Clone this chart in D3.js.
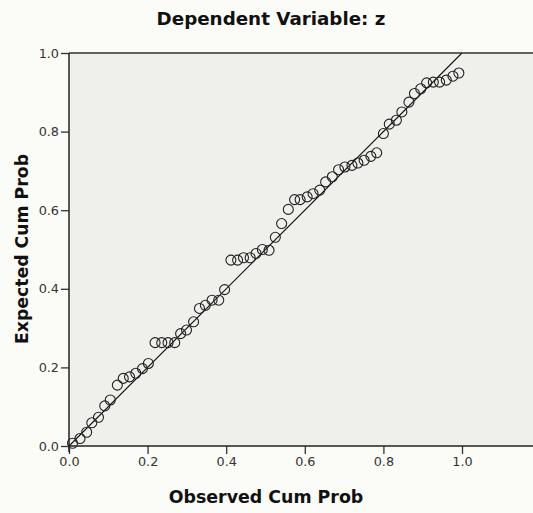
<!DOCTYPE html>
<html><head><meta charset="utf-8">
<script src="https://cdn.jsdelivr.net/npm/d3@7"></script>
<style>
body{margin:0;background:#fbfbf7;}
svg{display:block;}
</style></head>
<body>
<svg id="chart" width="533" height="513"></svg>
<script>
const titleText = "Dependent Variable: z";
const xTitle = "Observed Cum Prob";
const yTitle = "Expected Cum Prob";
const tickValues = [0, 0.2, 0.4, 0.6, 0.8, 1.0];

const observed = [0.009,0.028,0.045,0.058,0.075,0.091,0.105,0.123,0.138,0.154,0.170,0.187,0.202,0.219,0.236,0.252,0.269,0.284,0.299,0.317,0.332,0.347,0.364,0.381,0.396,0.412,0.429,0.444,0.461,0.476,0.492,0.509,0.525,0.541,0.558,0.574,0.588,0.606,0.621,0.638,0.653,0.670,0.686,0.702,0.720,0.735,0.751,0.768,0.783,0.800,0.815,0.833,0.847,0.865,0.879,0.895,0.910,0.927,0.943,0.960,0.977,0.992];
const expected = [0.007,0.019,0.035,0.059,0.073,0.102,0.117,0.155,0.172,0.176,0.185,0.197,0.210,0.263,0.263,0.263,0.263,0.286,0.295,0.316,0.350,0.358,0.371,0.371,0.398,0.473,0.473,0.479,0.479,0.490,0.500,0.498,0.531,0.566,0.602,0.627,0.627,0.634,0.642,0.651,0.672,0.685,0.703,0.710,0.714,0.720,0.727,0.737,0.746,0.795,0.819,0.829,0.850,0.875,0.897,0.909,0.924,0.926,0.926,0.931,0.941,0.949];
const refLine = [[0,0],[1,1]];

const svg = d3.select("#chart");
const W = 533, H = 513;
const mLeft = 69, mTop = 53, mBottom = 446;
const x = d3.scaleLinear().domain([0, 1]).range([mLeft, 462]);
const y = d3.scaleLinear().domain([0, 1]).range([mBottom, mTop]);

// plot background
svg.append("rect").attr("x", x(0)).attr("y", y(1)).attr("width", W - x(0)).attr("height", y(0) - y(1)).attr("fill", "#efefeb");

// reference line
svg.append("path").datum(refLine)
  .attr("d", d3.line().x(d => x(d[0])).y(d => y(d[1])))
  .attr("stroke", "#111").attr("stroke-width", 1.1).attr("fill", "none");

// points
svg.append("g").selectAll("circle").data(observed).join("circle")
  .attr("cx", (d) => x(d)).attr("cy", (d, i) => y(expected[i])).attr("r", 5)
  .attr("fill", "none").attr("stroke", "#222").attr("stroke-width", 1.1);

// top border
svg.append("line").attr("x1", x(0)).attr("x2", W).attr("y1", y(1)).attr("y2", y(1)).attr("stroke", "#333").attr("stroke-width", 1.3);

const fontTick = "'DejaVu Sans', sans-serif";
// x axis
const xAxis = d3.axisBottom(x).tickValues(tickValues).tickFormat(d3.format(".1f")).tickSize(8).tickSizeOuter(0);
const gx = svg.append("g").attr("transform", `translate(0,${mBottom})`).call(xAxis);
gx.select(".domain").remove();
gx.append("line").attr("x1", x(0)).attr("x2", W).attr("stroke", "#222").attr("stroke-width", 1.5);
gx.selectAll(".tick line").attr("stroke", "#333").attr("stroke-width", 1.3);
gx.selectAll(".tick text").attr("font-family", fontTick).attr("font-size", 12.8).attr("fill", "#333").attr("dy", "0.45em").attr("y", 14);

// y axis
const yAxis = d3.axisLeft(y).tickValues(tickValues).tickFormat(d3.format(".1f")).tickSize(8).tickSizeOuter(0);
const gy = svg.append("g").attr("transform", `translate(${mLeft},0)`).call(yAxis);
gy.select(".domain").remove();
gy.append("line").attr("y1", y(0) + 6).attr("y2", y(1)).attr("stroke", "#222").attr("stroke-width", 1.5);
gy.selectAll(".tick line").attr("stroke", "#333").attr("stroke-width", 1.3);
gy.selectAll(".tick text").attr("font-family", fontTick).attr("font-size", 12.8).attr("fill", "#333").attr("x", -10);

const fontBold = "'DejaVu Sans', sans-serif";
svg.append("text").attr("x", 271).attr("y", 25).attr("text-anchor", "middle")
  .attr("font-family", fontBold).attr("font-weight", "bold").attr("font-size", 18.3).attr("fill", "#111").text(titleText);
svg.append("text").attr("x", 266).attr("y", 503).attr("text-anchor", "middle")
  .attr("font-family", fontBold).attr("font-weight", "bold").attr("font-size", 17.4).attr("fill", "#111").text(xTitle);
svg.append("text").attr("transform", `translate(28,249) rotate(-90)`).attr("text-anchor", "middle")
  .attr("font-family", fontBold).attr("font-weight", "bold").attr("font-size", 17.3).attr("fill", "#111").text(yTitle);
</script>
</body></html>
